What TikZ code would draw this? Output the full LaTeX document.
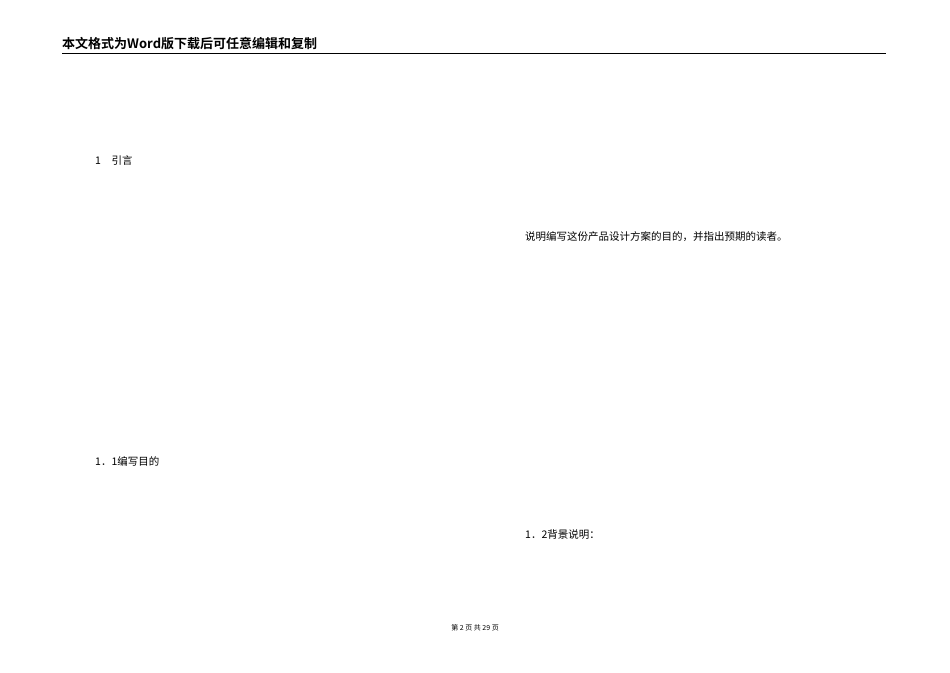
\documentclass[tikz,border=0pt]{standalone}
\usepackage{fontspec}
\newfontfamily\cjk{Noto Sans CJK SC}
\newfontfamily\cjkb{Noto Sans CJK SC Bold}
\begin{document}
\begin{tikzpicture}[x=1pt,y=-1pt,
  body/.style={anchor=west,inner sep=0pt,font=\cjk\fontsize{10.5}{12}\selectfont}]
\useasboundingbox (0,0) rectangle (950,672);
\node[anchor=west,inner sep=0pt,font=\cjkb\fontsize{13}{15}\selectfont] (hdr) at (62,44) {本文格式为Word版下载后可任意编辑和复制};
\draw[line width=0.8pt] (62,53) -- (886,53);
\node[body] (t1) at (95,160) {1\hspace{1em}引言};
\node[body] (t2) at (525,237) {说明编写这份产品设计方案的目的，并指出预期的读者。};
\node[body] (t3) at (95,461) {1．1编写目的};
\node[body] (t4) at (525,535) {1．2背景说明：};
\node[inner sep=0pt,font=\cjk\fontsize{7}{8}\selectfont] (ft) at (475,628) {第 2 页 共 29 页};
\end{tikzpicture}
\end{document}
